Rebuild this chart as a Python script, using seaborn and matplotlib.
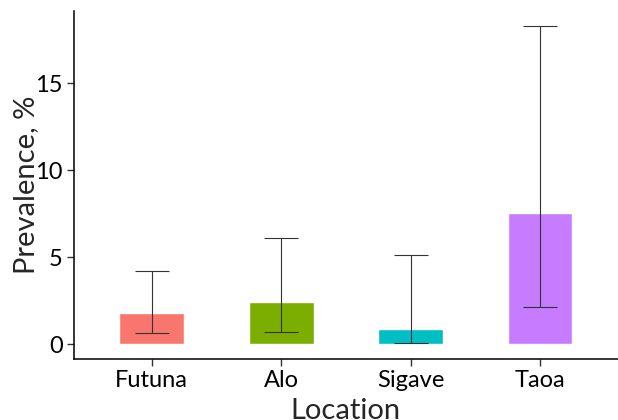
import numpy as np
import pandas as pd
import matplotlib
matplotlib.use("Agg")
import matplotlib.pyplot as plt
import seaborn as sns

# values
locations = ["Futuna", "Alo", "Sigave", "Taoa"]
prevalence = [1.80, 2.44, 0.90, 7.52]
ci_low = [0.65, 0.71, 0.04, 2.13]
ci_high = [4.22, 6.10, 5.12, 18.29]
bar_colors = ["#F8766D", "#7CAE00", "#00BFC4", "#C77CFF"]

df = pd.DataFrame({"Location": locations, "Prevalence": prevalence,
                   "low": ci_low, "high": ci_high})

sns.set_style("white")
plt.rcParams["font.family"] = ["Lato", "DejaVu Sans"]

fig = plt.figure(figsize=(6.18, 4.2), dpi=100)
ax = fig.add_axes([0.1197, 0.145, 0.88, 0.829])

sns.barplot(data=df, x="Location", y="Prevalence", hue="Location",
            palette=bar_colors, width=0.5, saturation=1, legend=False, ax=ax)

yerr = np.array([df["Prevalence"] - df["low"], df["high"] - df["Prevalence"]])
ax.errorbar(np.arange(len(locations)), df["Prevalence"], yerr=yerr,
            fmt="none", ecolor="#333333", elinewidth=0.8, capsize=12.5,
            capthick=0.8)

ax.set_xlim(-0.6, 3.6)
ax.set_ylim(-0.86, 19.17)
ax.set_yticks([0, 5, 10, 15])

for side in ["top", "right"]:
    ax.spines[side].set_visible(False)
for side in ["left", "bottom"]:
    ax.spines[side].set_color("black")
    ax.spines[side].set_linewidth(1.1)

ax.tick_params(axis="both", which="major", length=5, width=1, color="#333333",
               labelsize=17, labelcolor="black", left=True, bottom=True, pad=3)

ax.set_ylabel("Prevalence, %", fontsize=21)
ax.set_xlabel("Location", fontsize=21, labelpad=5)
ax.yaxis.set_label_coords(-0.065, 0.5)

fig.savefig("out.png", dpi=100)
